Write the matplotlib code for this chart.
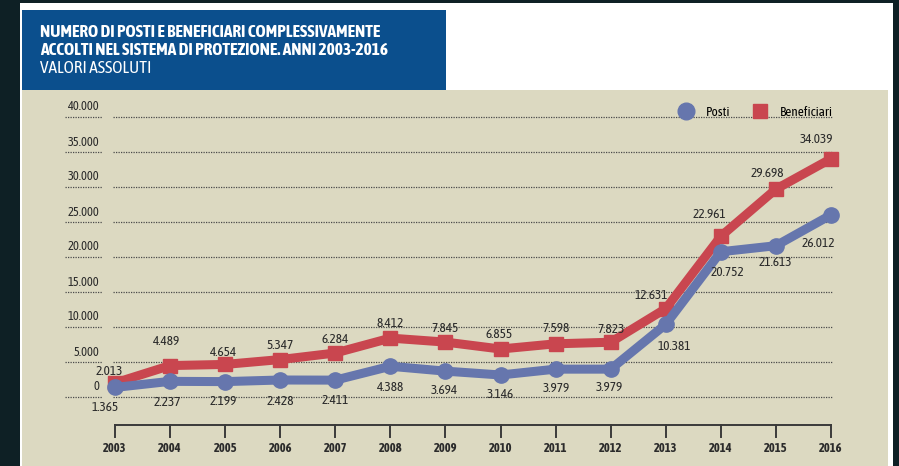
import numpy as np
import matplotlib.pyplot as plt
import matplotlib.font_manager as fm
from matplotlib.patches import Rectangle
from matplotlib.lines import Line2D

anni = list(range(2003, 2017))
posti = [1365, 2237, 2199, 2428, 2411, 4388, 3694, 3146, 3979, 3979, 10381, 20752, 21613, 26012]
beneficiari = [2013, 4489, 4654, 5347, 6284, 8412, 7845, 6855, 7598, 7823, 12631, 22961, 29698, 34039]
y_ticks = [0, 5000, 10000, 15000, 20000, 25000, 30000, 35000, 40000]

# label offsets in pixels (dx, dy)
ben_dx = [-6, -3, -2, 0, 0, 0, 0, -1, 0, 0, -14, -11, -9, -14]
ben_dy = [11, 24, 12, 14, 14, 15, 14, 15, 15, 13, 13, 22, 16, 19]
pos_dx = [-10, -3, -2, 0, 0, 0, -1, 0, 1, -1, 9, 7, -1, -13]
pos_dy = [-20, -21, -20, -21, -20, -21, -19, -20, -19, -18, -22, -21, -17, -29]

BG = '#0e2025'
BEIGE = '#dcd9c1'
TBLUE = '#0b4f8d'
RED = '#c9464f'
BLUE = '#6676ad'
TXT = '#2b2b2b'

# pick a narrow font, preferring one that has a bold face
weights = {}
for f in fm.fontManager.ttflist:
    if 'Narrow' in f.name or 'Condensed' in f.name:
        w = f.weight if isinstance(f.weight, int) else (700 if 'bold' in str(f.weight) else 400)
        weights.setdefault(f.name, set()).add(w)
cands = sorted(weights, key=lambda n: (max(weights[n]) < 600, 'Liberation' not in n))
FONT = [cands[0], 'DejaVu Sans'] if cands else ['Liberation Sans', 'DejaVu Sans']
sc = 1.0 if cands else 0.88

W, H = 899, 466
fig = plt.figure(figsize=(W / 100, H / 100), dpi=100, facecolor=BG)

def fx(px):
    return px / W

def fy(py):
    return 1 - py / H

# white panel
fig.patches.append(Rectangle((fx(20), 0), fx(893) - fx(20), fy(3), transform=fig.transFigure,
                             facecolor='white', edgecolor='none', zorder=-5))

# plot area in pixels
L, R, T, B = 22, 888, 90, 466
ax = fig.add_axes([fx(L), fy(B), fx(R) - fx(L), fy(T) - fy(B)])
ax.set_zorder(1)
ax.set_facecolor(BEIGE)
for s in ax.spines.values():
    s.set_visible(False)
ax.set_xticks([])
ax.set_yticks([])

ppx = 55.08        # pixels per year
ppy = 280 / 40000  # pixels per unit
ax.set_xlim(2003 - (115 - L) / ppx, 2016 + (R - 831) / ppx)
ax.set_ylim(-(B - 397) / ppy, 40000 + (117 - T) / ppy)

def py2v(py):
    return (397 - py) / ppy

def px2x(px):
    return 2003 + (px - 115) / ppx

def fmt(v):
    return f'{v:,}'.replace(',', '.')

txt = dict(family=FONT, color=TXT)

# grid + y labels
for v in y_ticks:
    ax.plot([px2x(113), px2x(833)], [v, v], color='#4a4a4a', lw=0.9, ls=(0, (1, 1)), zorder=1)
    ax.plot([px2x(65), px2x(102)], [v, v], color='#4a4a4a', lw=0.9, ls=(0, (1, 1)), zorder=1)
    ax.text(px2x(99), v + 10 / ppy, fmt(v), ha='right', va='center', fontsize=9 * sc, **txt)

# x axis
ax.plot([2003, 2016], [py2v(425), py2v(425)], color='#3a3a3a', lw=1.4, zorder=1)
for a in anni:
    ax.plot([a, a], [py2v(425), py2v(437)], color='#3a3a3a', lw=1.4, zorder=1)
    ax.text(a, py2v(448), str(a), ha='center', va='center', fontsize=9 * sc,
            fontweight='bold', **txt)

# series
ax.plot(anni, beneficiari, color=RED, lw=6.5, marker='s', ms=10, zorder=3,
        solid_joinstyle='round')
ax.plot(anni, posti, color=BLUE, lw=6.5, marker='o', ms=11, zorder=4,
        solid_joinstyle='round')

for i, a in enumerate(anni):
    ax.annotate(fmt(beneficiari[i]), (a, beneficiari[i]), xytext=(ben_dx[i], ben_dy[i]),
                textcoords='offset pixels', ha='center', va='center', fontsize=9.5 * sc,
                zorder=5, **txt)
    ax.annotate(fmt(posti[i]), (a, posti[i]), xytext=(pos_dx[i], pos_dy[i]),
                textcoords='offset pixels', ha='center', va='center', fontsize=9.5 * sc,
                zorder=5, **txt)

# legend
handles = [Line2D([], [], ls='none', marker='o', ms=12, color=BLUE),
           Line2D([], [], ls='none', marker='s', ms=10, color=RED)]
leg = ax.legend(handles, ['Posti', 'Beneficiari'], ncol=2, frameon=False, loc='upper right',
                bbox_to_anchor=((845 - L) / (R - L), 1 - (94 - T) / (B - T)),
                prop={'family': FONT, 'size': 9.5 * sc},
                handletextpad=0.5, columnspacing=1.3)

# title box
fig.patches.append(Rectangle((fx(22), fy(90)), fx(446) - fx(22), fy(10) - fy(90),
                             transform=fig.transFigure, facecolor=TBLUE, edgecolor='none', zorder=2))
ttl = dict(ha='left', va='center', family=FONT, color='white', zorder=3)
fig.text(fx(40), fy(32), 'NUMERO DI POSTI E BENEFICIARI COMPLESSIVAMENTE',
         fontsize=12.5 * sc, fontweight='bold', **ttl)
fig.text(fx(40), fy(50), 'ACCOLTI NEL SISTEMA DI PROTEZIONE. ANNI 2003-2016',
         fontsize=12.5 * sc, fontweight='bold', **ttl)
fig.text(fx(40), fy(68), 'VALORI ASSOLUTI', fontsize=12.5 * sc, **ttl)

fig.savefig('out.png', dpi=100, facecolor=BG)
